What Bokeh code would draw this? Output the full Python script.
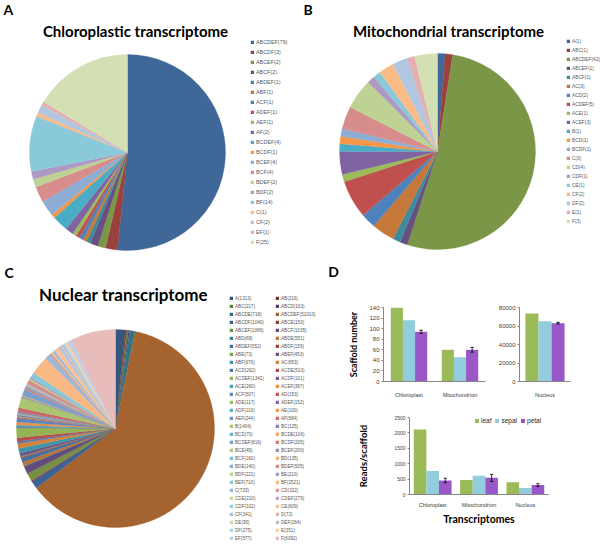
import math
from bokeh.plotting import figure
from bokeh.models import (ColumnDataSource, Legend, LegendItem, Label, Range1d,
                          SingleIntervalTicker, NumeralTickFormatter)
from bokeh.transform import dodge
from bokeh.layouts import row, column
from bokeh.embed import file_html
from bokeh.resources import INLINE

# ---------------- data ----------------
chloro_names = ["ABCDEF", "ABCDF", "ABCEF", "ABCF", "ABDEF", "ABF", "ACF", "ADEF", "AEF", "AF",
                "BCDEF", "BCDF", "BCEF", "BCF", "BDEF", "BDF", "BF", "C", "CF", "EF", "F"]
chloro_counts = [79, 3, 2, 2, 1, 1, 1, 1, 1, 2, 4, 1, 4, 4, 2, 2, 14, 1, 2, 1, 25]

mito_names = ["A", "ABC", "ABCDEF", "ABCEF", "ABCF", "AC", "ACD", "ACDEF", "ACE", "ACEF", "B",
              "BCD", "BCDF", "C", "CD", "CDF", "CE", "CF", "DF", "E", "F"]
mito_counts = [1, 1, 42, 1, 1, 3, 2, 5, 1, 3, 1, 1, 1, 3, 4, 1, 1, 2, 2, 1, 3]

nuc_names = ["A", "AB", "ABC", "ABCD", "ABCDE", "ABCDEF", "ABCDF", "ABCE", "ABCEF", "ABCF",
             "ABD", "ABDE", "ABDEF", "ABDF", "ABE", "ABEF", "ABF", "AC", "ACD", "ACDE",
             "ACDEF", "ACDF", "ACE", "ACEF", "ACF", "AD", "ADE", "ADEF", "ADF", "AE",
             "AEF", "AF", "B", "BC", "BCD", "BCDE", "BCDEF", "BCDF", "BCE", "BCEF",
             "BCF", "BD", "BDE", "BDEF", "BDF", "BE", "BEF", "BF", "C", "CD",
             "CDE", "CDEF", "CDF", "CE", "CF", "D", "DE", "DEF", "DF", "E", "EF", "F"]
nuc_counts = [1313, 216, 217, 163, 718, 51010, 1040, 150, 1066, 1035,
              69, 551, 552, 159, 73, 453, 676, 653, 262, 510,
              1342, 101, 260, 397, 507, 153, 117, 152, 110, 100,
              244, 584, 1404, 125, 70, 106, 816, 205, 45, 200,
              160, 135, 140, 505, 221, 210, 710, 2521, 720, 322,
              210, 279, 102, 609, 341, 72, 95, 264, 275, 351, 577, 6092]

tissues = ["leaf", "sepal", "petal"]
scaf_org_cats = ["Chloroplast", "Mitochondrion"]
scaf_org_leaf = [140, 60]
scaf_org_sepal = [116, 46]
scaf_org_petal = [94, 60]
scaf_org_err = [3, 4.5]
scaf_nuc_cats = ["Nucleus"]
scaf_nuc_leaf = [73500]
scaf_nuc_sepal = [65200]
scaf_nuc_petal = [63100]
scaf_nuc_err = [900]
reads_cats = ["Chloroplast", "Mitochondrion", "Nucleus"]
reads_leaf = [2110, 470, 395]
reads_sepal = [760, 610, 215]
reads_petal = [455, 540, 305]
reads_err = [70, 115, 45]

# ---------------- styles ----------------
ACCENTS = ["#4F81BD", "#C0504D", "#9BBB59", "#8064A2", "#4BACC6", "#F79646"]
TISSUE_COLORS = ["#9BBB59", "#93CDDD", "#9A57C8"]
FONT = "Liberation Sans"
TFONT = "Lato"
AXIS_GRAY = "#868686"
TXT = "#404040"


def tint(hexc, t):
    rgb = [int(hexc[i:i + 2], 16) for i in (1, 3, 5)]
    if t < 0:
        rgb = [c * (1 + t) for c in rgb]
    else:
        rgb = [c + (255 - c) * t for c in rgb]
    return "#%02x%02x%02x" % tuple(int(round(c)) for c in rgb)


def pie_colors(n, tvals):
    return [tint(ACCENTS[i % 6], tvals[i // 6]) for i in range(n)]


def blank_fig(w, h):
    p = figure(width=w, height=h, x_range=Range1d(0, w), y_range=Range1d(0, h),
               x_axis_location=None, y_axis_location=None, min_border=0,
               toolbar_location=None, output_backend="svg", outline_line_color=None)
    p.grid.grid_line_color = None
    p.background_fill_color = "white"
    return p


def add_pie(p, names, counts, colors, cx, cy, r):
    total = float(sum(counts))
    starts, ends = [], []
    acc = 0.0
    for c in counts:
        a0 = acc
        acc += c
        starts.append(math.pi / 2 - 2 * math.pi * acc / total)
        ends.append(math.pi / 2 - 2 * math.pi * a0 / total)
    src = ColumnDataSource(dict(start=starts, end=ends, color=colors,
                                label=[f"{n}({c})" for n, c in zip(names, counts)]))
    rend = p.wedge(x=cx, y=cy, radius=r, start_angle="start", end_angle="end",
                   fill_color="color", line_color="color", line_width=0.3, source=src)
    return rend, src


def add_legend(p, rend, labels, idx, x, y_bottom, fs, spacing):
    items = [LegendItem(label=labels[i], renderers=[rend], index=i) for i in idx]
    lg = Legend(items=items, location=(x, y_bottom),
                glyph_width=4, glyph_height=4, label_height=1, label_standoff=2,
                label_text_font=FONT, label_text_font_size=f"{fs}px",
                label_text_color="#595959", spacing=spacing, padding=0, margin=0,
                border_line_color=None, background_fill_alpha=0)
    p.add_layout(lg)


def label(p, x, y, text, size, font=TFONT, align="left", bold=True):
    p.add_layout(Label(x=x, y=y, text=text, text_font=font, text_font_size=f"{size}px",
                       text_font_style="bold" if bold else "normal", text_align=align,
                       text_baseline="middle", text_color="black"))


H1 = 263
# ---------------- panel A ----------------
WA = 292
pA = blank_fig(WA, H1)
colA = pie_colors(len(chloro_counts), [-0.2, 0.0, 0.35, 0.55])
rA, sA = add_pie(pA, chloro_names, chloro_counts, colA, 127, H1 - 152, 98)
add_legend(pA, rA, sA.data["label"], range(len(chloro_names)), 250, H1 - 242 - 3, 5.4, 4)
label(pA, 3, H1 - 9, "A", 14)
label(pA, 135, H1 - 30, "Chloroplastic transcriptome", 15, align="center")

# ---------------- panel B ----------------
WB = 308
pB = blank_fig(WB, H1)
colB = pie_colors(len(mito_counts), [-0.2, 0.0, 0.35, 0.55])
rB, sB = add_pie(pB, mito_names, mito_counts, colB, 145, H1 - 151, 98)
add_legend(pB, rB, sB.data["label"], range(len(mito_names)), 274, H1 - 221 - 2.5, 4.8, 4)
label(pB, 11, H1 - 9, "B", 14)
label(pB, 156, H1 - 30, "Mitochondrial transcriptome", 15, align="center")

# ---------------- panel C ----------------
WC, HC = 345, 288
pC = blank_fig(WC, HC)
nt = [-0.33 + 0.095 * k for k in range(11)]
colC = pie_colors(len(nuc_counts), nt)
rC, sC = add_pie(pC, nuc_names, nuc_counts, colC, 115, HC - 165, 99)
n = len(nuc_names)
add_legend(pC, rC, sC.data["label"], range(0, n, 2), 229, HC - 275 - 2.5, 4.6, 3)
add_legend(pC, rC, sC.data["label"], range(1, n, 2), 275, HC - 275 - 2.5, 4.6, 3)
label(pC, 4, HC - 9, "C", 14)
label(pC, 123, HC - 31, "Nuclear transcriptome", 17, align="center")
label(pC, 333, HC - 8, "D", 14, align="center")


# ---------------- panel D ----------------
def bar_fig(w, h, cats, ymax, yint, borders, bw, leaf, sepal, petal, err, fs_tick, fs_cat, cat_standoff):
    l, r, t, b = borders
    p = figure(width=w, height=h, x_range=cats, y_range=Range1d(0, ymax),
               toolbar_location=None, output_backend="svg",
               min_border_left=l, min_border_right=r, min_border_top=t, min_border_bottom=b,
               outline_line_color=None)
    p.grid.grid_line_color = None
    src = ColumnDataSource(dict(cat=cats, leaf=leaf, sepal=sepal, petal=petal,
                                hi=[v + e for v, e in zip(petal, err)],
                                lo=[v - e for v, e in zip(petal, err)]))
    rends = []
    for k, (tname, col) in enumerate(zip(tissues, TISSUE_COLORS)):
        off = (k - 1) * bw
        rends.append(p.vbar(x=dodge("cat", off, range=p.x_range), top=tname, width=bw,
                            fill_color=col, line_color=None, source=src))
    p.segment(x0=dodge("cat", bw, range=p.x_range), x1=dodge("cat", bw, range=p.x_range),
              y0="lo", y1="hi", line_color="black", line_width=0.8, source=src)
    for end in ("lo", "hi"):
        p.segment(x0=dodge("cat", bw - 0.035, range=p.x_range),
                  x1=dodge("cat", bw + 0.035, range=p.x_range),
                  y0=end, y1=end, line_color="black", line_width=0.8, source=src)
    p.yaxis.ticker = SingleIntervalTicker(interval=yint, num_minor_ticks=0)
    p.yaxis.formatter = NumeralTickFormatter(format="0")
    for ax in (p.xaxis, p.yaxis):
        ax.axis_line_color = AXIS_GRAY
        ax.major_tick_line_color = AXIS_GRAY
        ax.minor_tick_line_color = None
        ax.major_label_text_font = FONT
        ax.major_label_text_color = TXT
        ax.axis_label_text_font = TFONT
        ax.axis_label_text_font_style = "bold"
        ax.axis_label_text_color = "black"
    p.yaxis.major_tick_out = 2
    p.yaxis.major_tick_in = 0
    p.yaxis.major_label_standoff = 2
    p.yaxis.major_label_text_font_size = f"{fs_tick}px"
    p.xaxis.major_tick_line_color = None
    p.xaxis.major_label_text_font_size = f"{fs_cat}px"
    p.xaxis.major_label_standoff = cat_standoff
    p.xaxis.major_label_orientation = "horizontal"
    return p, rends


d1, _ = bar_fig(150, 140, scaf_org_cats, 140, 20, (35, 10, 44, 22), 0.238,
                scaf_org_leaf, scaf_org_sepal, scaf_org_petal, scaf_org_err, 6, 5.5, 4)
d1.yaxis.axis_label = "Scaffold number"
d1.yaxis.axis_label_text_font_size = "9px"
d1.yaxis.axis_label_standoff = 7

d2, _ = bar_fig(105, 140, scaf_nuc_cats, 80000, 20000, (23, 30, 41, 22), 0.256,
                scaf_nuc_leaf, scaf_nuc_sepal, scaf_nuc_petal, scaf_nuc_err, 6, 5.5, 4)

d3, r3 = bar_fig(255, 148, reads_cats, 2500, 500, (64, 52, 14, 57), 0.272,
                 reads_leaf, reads_sepal, reads_petal, reads_err, 5, 5.5, 1)
d3.yaxis.axis_label = "Reads/scaffold"
d3.yaxis.axis_label_text_font_size = "9.5px"
d3.yaxis.axis_label_standoff = 22
d3.xaxis.axis_label = "Transcriptomes"
d3.xaxis.axis_label_text_font_size = "10.5px"
d3.xaxis.axis_label_standoff = 2
leg3 = Legend(items=[LegendItem(label=t, renderers=[r]) for t, r in zip(tissues, r3)],
              orientation="horizontal", location=(65, 70), glyph_width=5, glyph_height=5,
              label_height=7, label_width=1, label_standoff=2, label_text_font=FONT,
              label_text_font_size="6.5px", label_text_color="#262626", spacing=3,
              padding=0, margin=0, border_line_color=None, background_fill_alpha=0)
d3.add_layout(leg3)

layout = column(row(pA, pB), row(pC, column(row(d1, d2), d3)))

open("out.html", "w").write(file_html(layout, INLINE))
